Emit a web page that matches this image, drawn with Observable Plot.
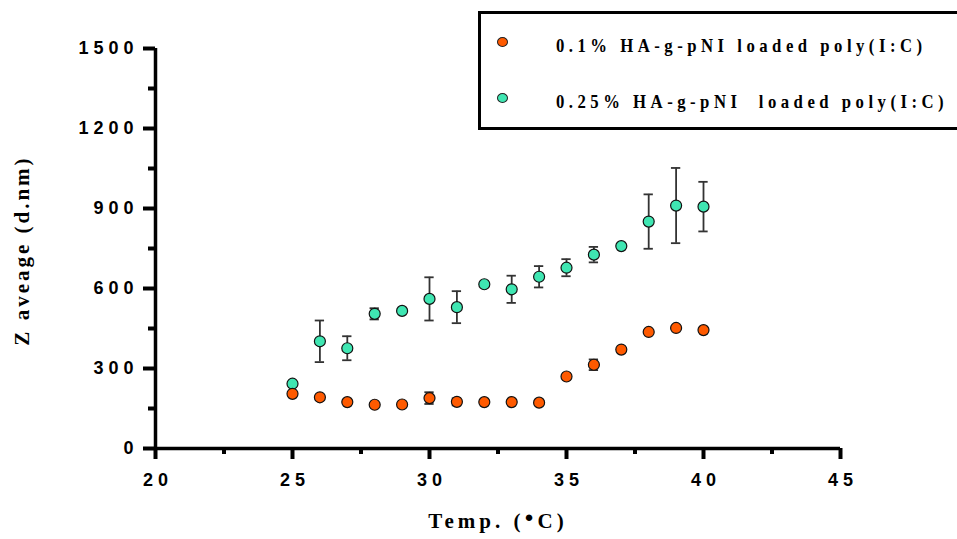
<!DOCTYPE html>
<html><head><meta charset="utf-8">
<script src="https://cdn.jsdelivr.net/npm/d3@7"></script>
<script src="https://cdn.jsdelivr.net/npm/@observablehq/plot@0.6"></script>
<style>
body{margin:0;background:#fff;}
#wrap{position:relative;width:957px;height:539px;overflow:hidden;background:#fff;}
#legend{position:absolute;left:478px;top:11px;width:490px;height:113px;border:3px solid #000;border-right:none;font-family:"Liberation Serif",serif;font-weight:bold;font-size:19px;letter-spacing:5.1px;white-space:pre;color:#000;}
.item{position:absolute;left:16px;height:22px;line-height:22px;}
.sw{position:absolute;left:0;top:5px;width:9px;height:8px;border:1px solid #222;border-radius:50%;}
.lab{position:absolute;left:59px;top:3px;transform:scaleX(0.88);transform-origin:0 50%;}
</style></head>
<body><div id="wrap"><div id="legend"></div></div>
<script>
const temps = [25,26,27,28,29,30,31,32,33,34,35,36,37,38,39,40];
const seriesNames = ["0.1% HA-g-pNI loaded poly(I:C)", "0.25% HA-g-pNI  loaded poly(I:C)"];
const seriesColors = ["#ff5a00", "#3fe6b2"];
const low = [205,192,174,164,165,189,175,174,174,172,270,314,371,437,452,444];
const lowErr = [0,0,0,0,0,22,13,0,0,0,0,20,0,0,0,0];
const high = [243,402,376,505,516,561,530,616,597,644,678,727,759,851,911,907];
const highErr = [0,78,45,21,0,81,60,0,51,40,32,29,0,102,141,93];
const xMajor = [20,25,30,35,40,45];
const xMinor = [22.5,27.5,32.5,37.5,42.5];
const yMajor = [0,300,600,900,1200,1500];
const yMinor = [150,450,750,1050,1350];
const xLabel = "Temp. (●C)";
const yLabel = "Z aveage (d.nm)";

const rows = (vals, errs, s) => temps.map((t, i) => ({t, v: vals[i], e: errs[i], s}));
const dLow = rows(low, lowErr, 0);
const dHigh = rows(high, highErr, 1);
const errs = [...dHigh, ...dLow].filter(d => d.e > 0);
const cap = 0.17;
const AW = 3.5, TW = 4;

const plot = Plot.plot({
  width: 957, height: 539,
  marginLeft: 155, marginRight: 117, marginTop: 48, marginBottom: 91,
  x: {domain: [20, 45]},
  y: {domain: [0, 1500]},
  style: {fontFamily: "Liberation Sans, Arial, sans-serif", background: "transparent", overflow: "visible"},
  marks: [
    Plot.axisY({ticks: yMajor, tickSize: 12, tickPadding: 5, strokeWidth: TW, fontSize: 18, fontWeight: "bold", tickFormat: d => String(d), label: null, fill: "#000"}),
    Plot.axisY({ticks: yMinor, tickSize: 7, strokeWidth: TW, tickFormat: () => "", label: null}),
    Plot.axisX({ticks: xMajor, tickSize: 11, tickPadding: 14, strokeWidth: TW, fontSize: 18, fontWeight: "bold", tickFormat: d => String(d), label: null, fill: "#000"}),
    Plot.axisX({ticks: xMinor, tickSize: 6, strokeWidth: TW, tickFormat: () => "", label: null}),
    Plot.ruleX([20], {y1: 0, y2: 1500, strokeWidth: AW, stroke: "#000"}),
    Plot.ruleY([0], {x1: 20, x2: 45, strokeWidth: AW, stroke: "#000"}),
    // error bars
    Plot.ruleX(errs, {x: "t", y1: d => d.v - d.e, y2: d => d.v + d.e, stroke: "#333", strokeWidth: 1.8}),
    Plot.ruleY(errs, {y: d => d.v + d.e, x1: d => d.t - cap, x2: d => d.t + cap, stroke: "#333", strokeWidth: 1.8}),
    Plot.ruleY(errs, {y: d => d.v - d.e, x1: d => d.t - cap, x2: d => d.t + cap, stroke: "#333", strokeWidth: 1.8}),
    Plot.dot(dHigh, {x: "t", y: "v", r: 5.5, fill: seriesColors[1], stroke: "#111", strokeWidth: 1.2}),
    Plot.dot(dLow, {x: "t", y: "v", r: 5.5, fill: seriesColors[0], stroke: "#111", strokeWidth: 1.2}),
    Plot.text([yLabel], {frameAnchor: "left", textAnchor: "middle", dx: -133, dy: 2, rotate: -90, fontSize: 21, fontWeight: "bold", fontFamily: "Liberation Serif, serif", fill: "#000"}),
    Plot.text([xLabel], {frameAnchor: "bottom", textAnchor: "middle", dy: 79, fontSize: 21, fontWeight: "bold", fontFamily: "Liberation Serif, serif", fill: "#000"})
  ]
});
document.getElementById("wrap").prepend(plot);
plot.style.position = "absolute"; plot.style.left = "0"; plot.style.top = "0";

d3.select(plot).selectAll('g[aria-label="y-axis tick label"] text').attr("letter-spacing", "5px");
d3.select(plot).selectAll('g[aria-label="x-axis tick label"] text').attr("letter-spacing", "5px").attr("dx", 2.5);
d3.select(plot).selectAll("text").each(function() {
  const el = d3.select(this);
  const t = el.text();
  if (t === yLabel) el.attr("letter-spacing", "3px");
  if (t === xLabel) {
    el.attr("letter-spacing", "4px").text(null);
    el.append("tspan").text("Temp. (");
    el.append("tspan").text("●").attr("font-size", "15px").attr("baseline-shift", "6px");
    el.append("tspan").text("C)");
  }
});

const legend = d3.select("#legend");
seriesNames.forEach((name, i) => {
  const it = legend.append("div").attr("class", "item").style("top", (i === 0 ? 18 : 74) + "px");
  it.append("div").attr("class", "sw").style("background", seriesColors[i]);
  it.append("span").attr("class", "lab").text(name);
});
</script></body></html>
